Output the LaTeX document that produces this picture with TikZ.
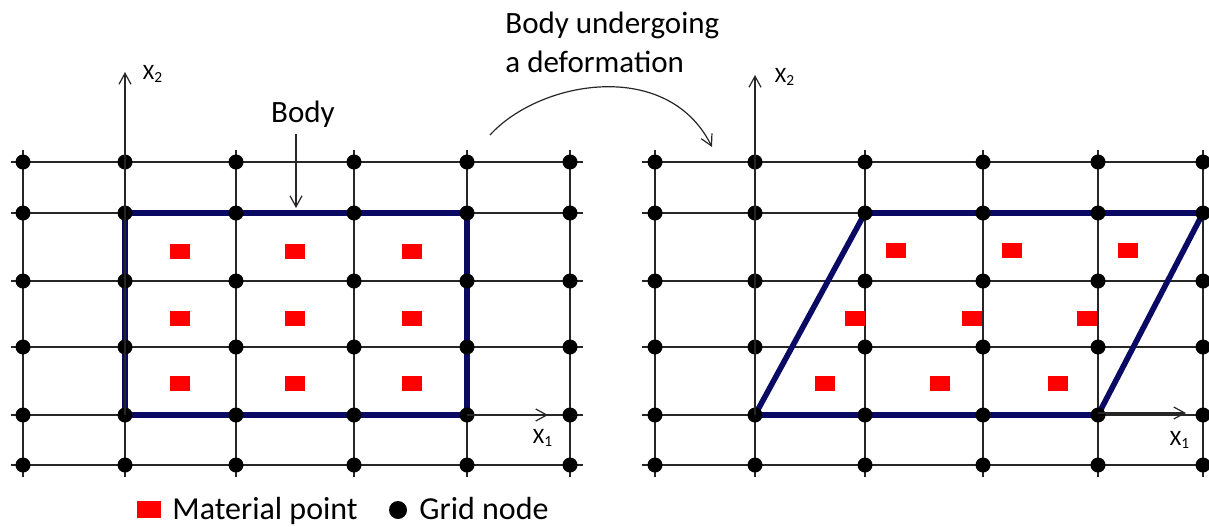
\documentclass[tikz,border=0pt]{standalone}
\usepackage{fontspec}
\setmainfont{Carlito}
\usetikzlibrary{arrows.meta}
\definecolor{bodyblue}{RGB}{10,10,100}
\definecolor{matred}{RGB}{255,0,0}
\tikzset{
  gridline/.style={black!85,line width=0.65pt},
  gridnode/.style={circle,fill=black,inner sep=0pt,minimum size=7.5pt},
  matpt/.style={fill=matred,inner sep=0pt,minimum width=10pt,minimum height=7.5pt},
  bodyline/.style={bodyblue,line width=2.8pt,line join=miter},
  axis/.style={black!85,line width=0.6pt,-{Straight Barb[length=5.5pt,width=6pt]}},
  lbl/.style={font=\fontsize{15.5}{19.5}\selectfont,inner sep=0pt},
  axlbl/.style={font=\fontsize{11}{13}\selectfont,inner sep=0pt},
}
\begin{document}
\begin{tikzpicture}[x=0.5pt,y=-0.5pt]
    \useasboundingbox (0,0) rectangle (1209,526);
    \clip (0,0) rectangle (1209,526);
    % grid points, left and right
    \foreach \i/\x in {0/23,1/125,2/236,3/354,4/467,5/570}
      \foreach \j/\y in {0/162,1/213,2/281,3/347,4/415,5/465}
        \coordinate (a\i\j) at (\x,\y);
    \foreach \i/\x in {0/655,1/755,2/865,3/983,4/1098,5/1203}
      \foreach \j/\y in {0/162,1/213,2/281,3/347,4/415,5/465}
        \coordinate (b\i\j) at (\x,\y);
    \foreach \k in {0,...,5}{
      \draw[gridline,shorten <=-6pt,shorten >=-6.5pt] (a0\k) -- (a5\k);
      \draw[gridline,shorten <=-6pt,shorten >=-6pt] (a\k0) -- (a\k5);
      \draw[gridline,shorten <=-6.5pt,shorten >=-10pt] (b0\k) -- (b5\k);
      \draw[gridline,shorten <=-6pt,shorten >=-6pt] (b\k0) -- (b\k5);
    }
    % material points
    \foreach \x/\y [count=\k] in {180/251,295/251,412/251,180/318,295/318,412/318,180/383,295/383,412/383}
      \node[matpt] (mL\k) at (\x,\y) {};
    \foreach \x/\y [count=\k] in {896/250,1012/250,1128/250,855/318,972/318,1087/318,825/383,940/383,1058/383}
      \node[matpt] (mR\k) at (\x,\y) {};
    % body before and after
    \draw[bodyline] (a11) -- (a41) -- (a44) -- (a14) -- cycle;
    \draw[bodyline] (b14) -- (b44) -- (b51) -- (b21) -- cycle;
    \foreach \i in {0,...,5}
      \foreach \j in {0,...,5}{
        \node[gridnode] (dL\i\j) at (a\i\j) {};
        \node[gridnode] (dR\i\j) at (b\i\j) {};
      }
    % axes
    \coordinate (x2tipL) at (125,72);
    \coordinate (x1tipL) at (548,415);
    \coordinate (x2tipR) at (755,75);
    \coordinate (x1tipR) at (1186,413);
    \draw[axis] (a14) -- (x2tipL);
    \draw[axis] (a44) -- (x1tipL);
    \draw[axis] (b14) -- (x2tipR);
    \draw[axis] ([yshift=1pt]b44) -- (x1tipR);
    \node[axlbl] (x2lblL) at (153,74) {X\textsubscript{2}};
    \node[axlbl] (x1lblL) at (543,438) {X\textsubscript{1}};
    \node[axlbl] (x2lblR) at (785,77) {X\textsubscript{2}};
    \node[axlbl] (x1lblR) at (1180,440) {X\textsubscript{1}};
    % labels
    \node[lbl,anchor=base] (bodylbl) at (303,122) {Body};
    \coordinate (bodyarr) at (296,134);
    \coordinate (bodytop) at (296,208);
    \draw[axis] (bodyarr) -- (bodytop);
    \node[lbl,anchor=north west,align=left] (deflbl) at (505,12) {Body undergoing\\a deformation};
    \coordinate (defstart) at (490,135);
    \coordinate (defend) at (712,147);
    \draw[axis] (defstart) .. controls (540,80) and (668,58) .. (defend);
    % legend
    \node[matpt,minimum width=12pt,minimum height=8.5pt] (legmat) at (149,509.5) {};
    \node[lbl,anchor=base west,font=\fontsize{16}{19}\selectfont] (legmatlbl) at (172,519) {Material point};
    \node[gridnode,minimum size=9pt] (legnode) at (398,510) {};
    \node[lbl,anchor=base west,font=\fontsize{16}{19}\selectfont] (legnodelbl) at (419,519) {Grid node};
  \end{tikzpicture}
\end{document}
